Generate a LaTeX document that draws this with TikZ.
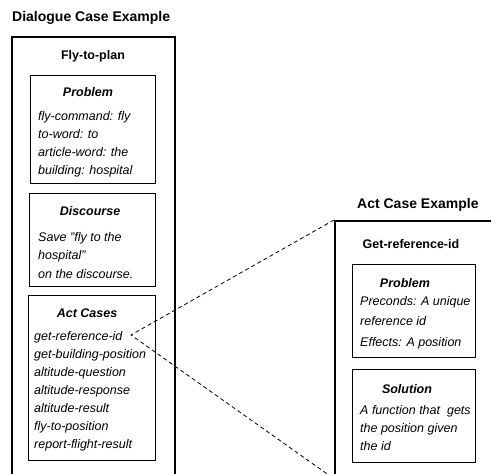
\documentclass[tikz,border=0pt]{standalone}
\usepackage{fontspec}
\setmainfont{Liberation Sans}
\begin{document}
\begin{tikzpicture}[x=1pt,y=-1pt,
  outerbox/.style={draw, line width=1.8pt, inner sep=0pt, anchor=north west},
  innerbox/.style={draw, line width=0.9pt, inner sep=0pt, anchor=north west},
  title/.style={font=\fontsize{14}{16}\selectfont\bfseries, anchor=base west, inner sep=0pt},
  heading/.style={font=\fontsize{12.5}{15}\selectfont\bfseries\itshape, anchor=base, inner sep=0pt},
  plan/.style={font=\fontsize{12.5}{15}\selectfont\bfseries, anchor=base, inner sep=0pt},
  body/.style={font=\fontsize{12.5}{15}\selectfont\itshape, anchor=base west, inner sep=0pt},
  link/.style={line width=0.8pt, dash pattern=on 4pt off 3pt}]
\useasboundingbox (0,0) rectangle (491,474);

% ---------- Dialogue case ----------
\node[title] (dtitle) at (12,21) {Dialogue Case Example};
\node[outerbox, minimum width=163pt, minimum height=460pt] (dce) at (11,36) {};
\node[plan] (fly) at (93,59) {Fly-to-plan};

\node[innerbox, minimum width=125pt, minimum height=108pt] (prob) at (30,75) {};
\node[heading] (probh) at (88,96) {Problem};
\foreach \t [count=\i] in {fly-command: fly, to-word: to, article-word: the, building: hospital}
  \node[body] (pl\i) at (38,{120+18*(\i-1)}) {\t};

\node[innerbox, minimum width=126pt, minimum height=93pt] (disc) at (29,193) {};
\node[heading] (disch) at (90,215) {Discourse};
\foreach \t [count=\i] in {Save "fly to the, hospital", on the discourse.}
  \node[body] (dl\i) at (38,{241+18.5*(\i-1)}) {\t};

\node[innerbox, minimum width=127pt, minimum height=165pt] (acts) at (28,295) {};
\node[heading] (actsh) at (87,317) {Act Cases};
\foreach \t [count=\i] in {get-reference-id, get-building-position, altitude-question, altitude-response, altitude-result, fly-to-position, report-flight-result}
  \node[body] (al\i) at (34,{340+18*(\i-1)}) {\t};

% ---------- Act case ----------
\node[title] (atitle) at (357,208) {Act Case Example};
\node[outerbox, minimum width=170pt, minimum height=257pt] (ace) at (334,220) {};
\node[plan] (getid) at (411,248) {Get-reference-id};

\node[innerbox, minimum width=123pt, minimum height=93pt] (aprob) at (352,264) {};
\node[heading] (aprobh) at (405,287) {Problem};
\node[body] (ap1) at (360,305) {Preconds: A unique};
\node[body] (ap2) at (360,325) {reference id};
\node[body] (ap3) at (360,346) {Effects: A position};

\node[innerbox, minimum width=123pt, minimum height=93pt] (asol) at (352,369) {};
\node[heading] (asolh) at (407,393) {Solution};
\node[body] (as1) at (360,414) {A function that\ \ gets};
\node[body] (as2) at (360,432) {the position given};
\node[body] (as3) at (360,450) {the id};

% ---------- connector ----------
\coordinate (tip) at (131,335);
\draw[link] (ace.north west) -- (tip) -- (ace.south west);
\end{tikzpicture}
\end{document}
